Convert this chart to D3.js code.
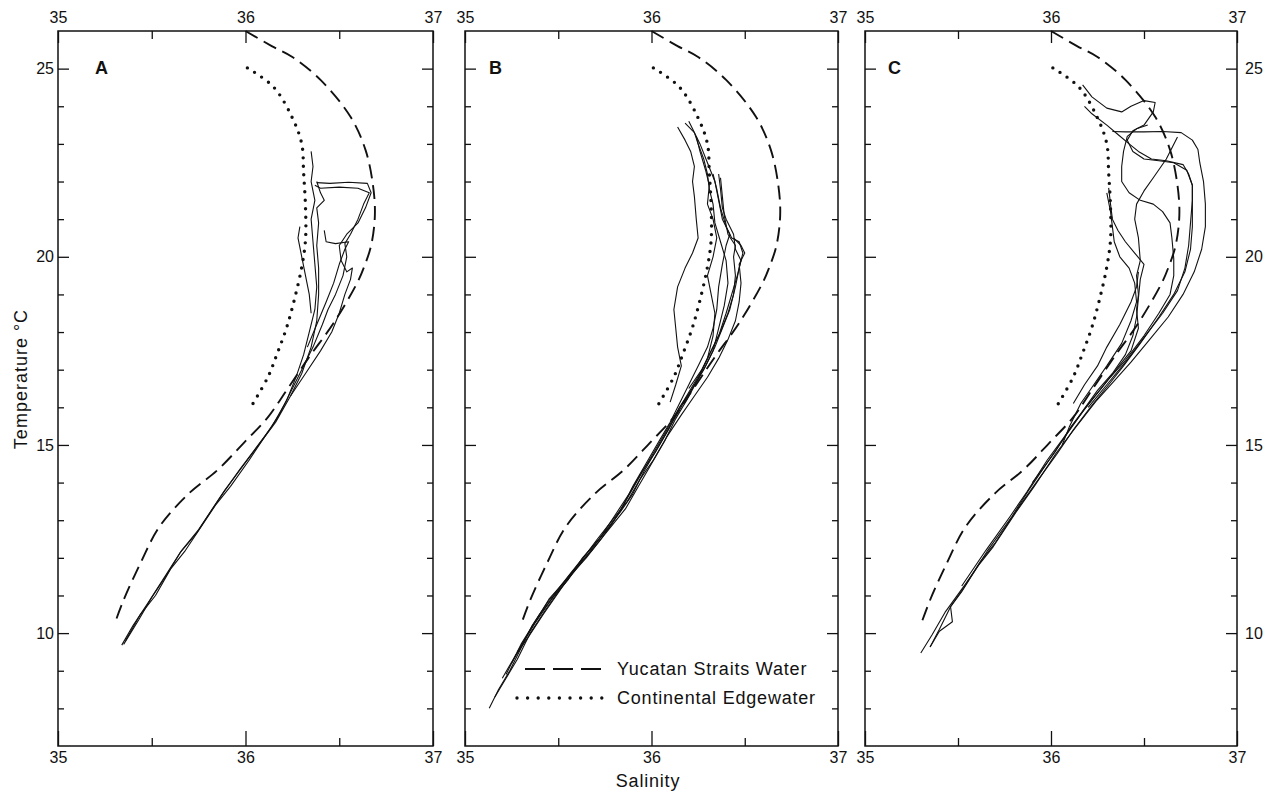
<!DOCTYPE html>
<html>
<head>
<meta charset="utf-8">
<script src="https://cdn.jsdelivr.net/npm/d3@7"></script>
<style>
body { margin: 0; background: #fff; }
svg { font-family: "Liberation Sans", Arial, sans-serif; }
</style>
</head>
<body>
<div id="chart"></div>
<script>
// axis values
var salinityLabels = [35, 36, 37];
var salinityMinor = [35.5, 36.5];
var tempLabels = [10, 15, 20, 25];
var tempMinor = [8, 9, 11, 12, 13, 14, 16, 17, 18, 19, 21, 22, 23, 24];
var panelNames = ["A", "B", "C"];

// reference water masses [salinity, temperature]
var yucatanStraitsWater = [
    [36.0, 26.0], [36.14, 25.6], [36.25, 25.31], [36.40, 24.7], [36.56, 23.72],
    [36.64, 22.84], [36.68, 21.9], [36.69, 21.1], [36.67, 20.3], [36.63, 19.7],
    [36.595, 19.3], [36.47, 18.24], [36.34, 17.34], [36.22, 16.46], [36.12, 15.74],
    [35.99, 15.05], [35.85, 14.33], [35.70, 13.72], [35.54, 12.82], [35.44, 11.86],
    [35.35, 10.88], [35.30, 10.22]
];
var continentalEdgewater = [
    [36.01, 25.02], [36.15, 24.51], [36.25, 23.69], [36.30, 23.0], [36.31, 22.23],
    [36.32, 21.32], [36.32, 20.45], [36.30, 19.73], [36.26, 18.85], [36.22, 18.13],
    [36.17, 17.44], [36.12, 16.81], [36.035, 16.06]
];

// station T-S profiles, panel A
var profilesA = [
    [[35.34,9.68],[35.40,10.2],[35.49,10.88],[35.57,11.5],[35.65,12.13],[35.74,12.66],[35.81,13.2],[35.88,13.72],[35.97,14.35],[36.06,14.95],[36.14,15.48],[36.22,16.19],[36.27,16.81],[36.31,17.4],[36.34,18.0],[36.37,18.6],[36.38,19.2],[36.37,19.8],[36.36,20.4],[36.35,21.0],[36.37,21.5],[36.35,22.0],[36.36,22.4],[36.35,22.8]],
    [[35.36,9.8],[35.44,10.5],[35.52,11.0],[35.60,11.7],[35.68,12.2],[35.76,12.8],[35.84,13.4],[35.92,13.9],[36.02,14.6],[36.10,15.2],[36.18,15.8],[36.24,16.4],[36.30,17.0],[36.36,17.6],[36.41,18.2],[36.44,18.6],[36.48,19.0],[36.52,19.5],[36.54,20.0],[36.53,20.35],[36.56,20.6],[36.60,21.0],[36.63,21.4],[36.66,21.7],[36.60,21.82],[36.50,21.85],[36.40,21.82],[36.37,21.9]],
    [[35.35,9.7],[35.43,10.35],[35.50,10.95],[35.58,11.55],[35.66,12.2],[35.75,12.75],[35.89,13.8],[35.98,14.4],[36.07,15.0],[36.16,15.6],[36.24,16.3],[36.32,16.9],[36.40,17.5],[36.46,18.0],[36.50,18.5],[36.53,19.0],[36.56,19.4],[36.57,19.7],[36.54,19.6],[36.51,19.9],[36.50,20.3],[36.54,20.6],[36.60,20.9],[36.64,21.3],[36.67,21.7],[36.65,21.95],[36.55,21.98],[36.45,21.95],[36.38,21.97]],
    [[36.35,18.5],[36.34,19.0],[36.32,19.5],[36.30,20.0],[36.28,20.5],[36.29,20.8]],
    [[36.24,16.3],[36.30,16.9],[36.35,17.6],[36.38,18.3],[36.39,19.0],[36.39,19.7],[36.38,20.3],[36.39,20.9],[36.38,21.3],[36.42,21.5],[36.40,21.7],[36.38,22.0]],
    [[36.33,17.6],[36.38,18.2],[36.43,18.8],[36.47,19.3],[36.50,19.8],[36.53,20.2],[36.55,20.4],[36.48,20.35],[36.43,20.4],[36.42,20.7]]
];

// panel B
var profilesB = [
    [[35.13,8.0],[35.18,8.5],[35.24,9.0],[35.30,9.6],[35.36,10.2],[35.44,10.8],[35.52,11.3],[35.60,11.8],[35.70,12.4],[35.78,12.85],[35.84,13.3],[35.90,13.9],[35.97,14.5],[36.04,15.1],[36.10,15.6],[36.16,16.2],[36.21,16.7],[36.26,17.2],[36.30,17.6],[36.33,18.1],[36.35,18.6],[36.36,19.2],[36.38,19.8],[36.40,20.3],[36.42,20.6],[36.38,21.0],[36.36,21.5],[36.34,22.0],[36.30,22.5],[36.26,23.0],[36.22,23.4],[36.20,23.6]],
    [[35.16,8.3],[35.22,8.8],[35.28,9.3],[35.35,10.0],[35.43,10.6],[35.50,11.1],[35.58,11.6],[35.66,12.1],[35.75,12.7],[35.83,13.2],[35.90,13.7],[35.96,14.3],[36.03,14.9],[36.10,15.5],[36.17,16.1],[36.23,16.6],[36.29,17.1],[36.34,17.6],[36.38,18.1],[36.42,18.6],[36.45,19.2],[36.47,19.7],[36.49,20.1],[36.47,20.4],[36.43,20.5],[36.40,20.8],[36.37,21.3],[36.35,21.8],[36.33,22.2]],
    [[35.20,8.8],[35.27,9.4],[35.34,9.9],[35.42,10.5],[35.49,11.0],[35.56,11.5],[35.65,12.0],[35.73,12.5],[35.80,13.0],[35.86,13.5],[35.93,14.1],[36.00,14.7],[36.07,15.3],[36.14,15.9],[36.20,16.4],[36.26,16.9],[36.31,17.4],[36.36,17.9],[36.40,18.5],[36.43,19.0],[36.46,19.5],[36.48,19.9],[36.45,20.2],[36.44,20.6],[36.40,21.0],[36.38,21.3],[36.37,21.8],[36.36,22.2]],
    [[35.22,8.9],[35.30,9.7],[35.40,10.5],[35.48,11.0],[35.55,11.4],[35.63,12.0],[35.72,12.5],[35.80,13.1],[35.88,13.7],[35.95,14.3],[36.02,14.8],[36.09,15.4],[36.15,16.0],[36.22,16.5],[36.28,17.0],[36.33,17.5],[36.36,18.1],[36.39,18.7],[36.41,19.3],[36.40,19.9],[36.37,20.4],[36.34,20.9],[36.33,21.4],[36.31,21.8],[36.30,22.2],[36.28,22.6],[36.25,23.0],[36.23,23.3],[36.18,23.55]],
    [[36.10,16.14],[36.13,16.6],[36.16,17.1],[36.14,17.6],[36.13,18.1],[36.12,18.6],[36.14,19.2],[36.18,19.7],[36.22,20.1],[36.25,20.5],[36.24,21.0],[36.23,21.6],[36.22,22.0],[36.23,22.4],[36.21,22.8],[36.18,23.1],[36.14,23.45]],
    [[35.25,9.2],[35.34,10.0],[35.45,10.9],[35.54,11.4],[35.62,11.9],[35.71,12.5],[35.79,13.0],[35.87,13.5],[35.94,14.1],[36.01,14.6],[36.08,15.2],[36.16,15.8],[36.23,16.3],[36.30,16.8],[36.36,17.3],[36.41,17.8],[36.45,18.3],[36.47,18.8],[36.48,19.3],[36.47,19.8],[36.50,20.1],[36.48,20.3],[36.44,20.5]],
    [[35.28,9.5],[35.38,10.3],[35.47,10.95],[35.57,11.6],[35.68,12.2],[35.77,12.75],[35.86,13.3],[35.93,13.9],[36.00,14.5],[36.07,15.1],[36.13,15.7],[36.19,16.2],[36.25,16.75],[36.30,17.3],[36.33,17.9],[36.34,18.5],[36.32,19.0],[36.30,19.5],[36.33,20.0],[36.35,20.5],[36.33,21.0],[36.30,21.4],[36.31,21.9],[36.29,22.3],[36.26,22.8],[36.24,23.2]],
    [[36.20,16.5],[36.27,17.0],[36.32,17.5],[36.37,18.0],[36.41,18.5],[36.44,19.0],[36.45,19.5],[36.44,20.0],[36.45,20.3],[36.41,20.6],[36.39,21.1],[36.38,21.6],[36.37,22.1]]
];

// panel C
var profilesC = [
    [[35.30,9.47],[35.36,9.95],[35.43,10.55],[35.54,11.3],[35.61,11.8],[35.69,12.3],[35.81,13.2],[35.91,13.9],[36.03,14.8],[36.13,15.45],[36.24,16.15],[36.34,16.7],[36.43,17.2],[36.53,17.8],[36.63,18.4],[36.71,19.0],[36.77,19.6],[36.81,20.2],[36.83,20.8],[36.83,21.4],[36.82,22.0],[36.80,22.5],[36.79,22.85],[36.76,23.1],[36.70,23.3],[36.60,23.33],[36.50,23.32],[36.40,23.32],[36.33,23.33]],
    [[35.35,9.63],[35.40,10.1],[35.46,10.7],[35.53,11.2],[35.62,11.9],[35.70,12.4],[35.82,13.3],[35.92,14.0],[36.03,14.75],[36.12,15.4],[36.22,16.05],[36.31,16.6],[36.39,17.1],[36.48,17.7],[36.58,18.4],[36.66,19.0],[36.72,19.6],[36.75,20.2],[36.76,20.8],[36.76,21.3],[36.76,21.9],[36.73,22.3],[36.66,22.5],[36.58,22.55],[36.50,22.6],[36.44,22.8],[36.41,23.1],[36.44,23.35],[36.50,23.5],[36.55,23.85],[36.56,24.1],[36.50,24.15],[36.43,24.0],[36.38,23.85],[36.30,23.95],[36.22,24.25],[36.17,24.57]],
    [[35.35,9.63],[35.40,10.05],[35.47,10.3],[35.46,10.7],[35.52,11.1],[35.66,12.2],[35.79,13.1],[35.88,13.8],[35.99,14.6],[36.08,15.25],[36.18,15.95],[36.27,16.5],[36.35,17.0],[36.43,17.5],[36.47,18.1],[36.46,18.6],[36.47,19.0],[36.46,19.5],[36.48,19.9],[36.47,20.5],[36.45,21.0],[36.46,21.4],[36.50,21.75],[36.55,22.1],[36.62,22.6],[36.68,23.18]],
    [[35.52,11.25],[35.65,12.2],[35.78,13.1],[35.87,13.75],[35.98,14.6],[36.07,15.2],[36.17,15.9],[36.25,16.45],[36.33,16.9],[36.40,17.4],[36.44,17.9],[36.46,18.4],[36.47,18.9],[36.48,19.4],[36.50,19.8],[36.45,20.1],[36.40,20.4],[36.36,20.7],[36.33,21.0],[36.32,21.4],[36.31,21.83]],
    [[36.06,15.0],[36.10,15.5],[36.16,16.1],[36.23,16.6],[36.30,17.1],[36.38,17.7],[36.43,18.3],[36.46,18.8],[36.45,19.3],[36.42,19.7],[36.37,20.0],[36.34,20.4],[36.33,20.8],[36.32,21.2],[36.30,21.7]],
    [[35.90,14.0],[36.02,14.8],[36.11,15.5],[36.22,16.2],[36.31,16.75],[36.40,17.25],[36.50,17.9],[36.58,18.5],[36.64,19.0],[36.66,19.5],[36.66,19.95],[36.65,20.5],[36.64,20.9],[36.60,21.2],[36.55,21.4],[36.48,21.5],[36.42,21.7],[36.38,22.0],[36.38,22.4],[36.39,22.8],[36.41,23.2],[36.46,23.4],[36.52,23.5]],
    [[36.20,16.0],[36.30,16.6],[36.40,17.2],[36.50,17.85],[36.60,18.5],[36.68,19.1],[36.72,19.7],[36.74,20.3],[36.75,20.9],[36.76,21.5],[36.76,21.9],[36.74,22.2],[36.71,22.45],[36.62,22.55],[36.54,22.6],[36.47,22.8],[36.42,23.0],[36.36,23.25],[36.30,23.5],[36.22,23.8],[36.18,24.0]],
    [[36.12,16.1],[36.18,16.6],[36.25,17.1],[36.30,17.6],[36.37,18.2],[36.43,18.8],[36.46,19.2],[36.47,19.6]]
];

var allProfiles = [profilesA, profilesB, profilesC];

// layout
var fullWidth = 1271;
var fullHeight = 793;
var panelLeft = [58, 465, 865];
var panelRight = [433, 838, 1237];
var letterX = [95, 489, 888];
var plotTop = 31;
var plotBottom = 746;
var ink = "#111";

var svg = d3.select("#chart").append("svg").attr("width", fullWidth).attr("height", fullHeight);

var y = d3.scaleLinear().domain([7, 26]).range([plotBottom, plotTop]);

function styleAxis(g) {
    g.select(".domain").remove();
    g.attr("font-size", 16);
    g.selectAll("line").attr("stroke", ink).attr("stroke-width", 1.3);
    g.selectAll("text").attr("fill", ink);
}

panelNames.forEach(function(name, i) {
    var x = d3.scaleLinear().domain([35, 37]).range([panelLeft[i], panelRight[i]]);
    var panel = svg.append("g");

    // frame
    panel.append("rect").attr("x", panelLeft[i]).attr("y", plotTop)
        .attr("width", panelRight[i] - panelLeft[i]).attr("height", plotBottom - plotTop)
        .attr("fill", "none").attr("stroke", ink).attr("stroke-width", 1.5);

    // top axis
    panel.append("g").attr("transform", "translate(0," + plotTop + ")")
        .call(d3.axisTop(x).tickValues(salinityLabels).tickSize(-12).tickPadding(8).tickFormat(d3.format("d")))
        .call(styleAxis);
    panel.append("g").attr("transform", "translate(0," + plotTop + ")")
        .call(d3.axisTop(x).tickValues(salinityMinor).tickSize(-8).tickFormat(""))
        .call(styleAxis);

    // bottom axis
    panel.append("g").attr("transform", "translate(0," + plotBottom + ")")
        .call(d3.axisBottom(x).tickValues(salinityLabels).tickSize(-15).tickPadding(6).tickFormat(d3.format("d")))
        .call(styleAxis);
    panel.append("g").attr("transform", "translate(0," + plotBottom + ")")
        .call(d3.axisBottom(x).tickValues(salinityMinor).tickSize(-8).tickFormat(""))
        .call(styleAxis);

    // left and right temperature ticks
    panel.append("g").attr("transform", "translate(" + panelLeft[i] + ",0)")
        .call(d3.axisLeft(y).tickValues(tempLabels).tickSize(-11).tickPadding(4)
            .tickFormat(i === 0 ? d3.format("d") : ""))
        .call(styleAxis);
    panel.append("g").attr("transform", "translate(" + panelLeft[i] + ",0)")
        .call(d3.axisLeft(y).tickValues(tempMinor).tickSize(-6).tickFormat(""))
        .call(styleAxis);
    panel.append("g").attr("transform", "translate(" + panelRight[i] + ",0)")
        .call(d3.axisRight(y).tickValues(tempLabels).tickSize(-11).tickPadding(8)
            .tickFormat(i === 2 ? d3.format("d") : ""))
        .call(styleAxis);
    panel.append("g").attr("transform", "translate(" + panelRight[i] + ",0)")
        .call(d3.axisRight(y).tickValues(tempMinor).tickSize(-6).tickFormat(""))
        .call(styleAxis);

    // panel letter
    panel.append("text").attr("x", letterX[i]).attr("y", 74)
        .style("font-size", "18px").style("font-weight", "bold").attr("fill", ink)
        .text(name);

    var line = d3.line().x(function(d) { return x(d[0]); }).y(function(d) { return y(d[1]); });
    var smooth = d3.line().curve(d3.curveCatmullRom)
        .x(function(d) { return x(d[0]); }).y(function(d) { return y(d[1]); });

    // station profiles
    panel.selectAll(".profile").data(allProfiles[i]).enter().append("path")
        .attr("class", "profile")
        .attr("d", line)
        .attr("fill", "none").attr("stroke", ink).attr("stroke-width", 1.1)
        .attr("stroke-linejoin", "round");

    // Yucatan Straits Water
    panel.append("path").datum(yucatanStraitsWater)
        .attr("d", smooth)
        .attr("fill", "none").attr("stroke", ink).attr("stroke-width", 1.9)
        .attr("stroke-dasharray", "14,7");

    // Continental Edgewater
    panel.append("path").datum(continentalEdgewater)
        .attr("d", smooth)
        .attr("fill", "none").attr("stroke", ink).attr("stroke-width", 3.4)
        .attr("stroke-linecap", "round").attr("stroke-dasharray", "0,8.5");
});

// legend (panel B)
var legend = svg.append("g");
legend.append("line").attr("x1", 525).attr("x2", 602).attr("y1", 669).attr("y2", 669)
    .attr("stroke", ink).attr("stroke-width", 2.2).attr("stroke-dasharray", "20,8");
legend.append("line").attr("x1", 517).attr("x2", 603).attr("y1", 698).attr("y2", 698)
    .attr("stroke", ink).attr("stroke-width", 3.4).attr("stroke-linecap", "round")
    .attr("stroke-dasharray", "0,10.6");
legend.append("text").attr("x", 617).attr("y", 675).attr("fill", ink)
    .style("font-size", "18px").style("letter-spacing", "0.8px").text("Yucatan Straits Water");
legend.append("text").attr("x", 617).attr("y", 704).attr("fill", ink)
    .style("font-size", "18px").style("letter-spacing", "0.8px").text("Continental Edgewater");

// axis titles
svg.append("text").attr("x", 648).attr("y", 787).attr("text-anchor", "middle").attr("fill", ink)
    .style("font-size", "18px").style("letter-spacing", "0.8px").text("Salinity");
svg.append("text").attr("transform", "translate(27,379) rotate(-90)").attr("text-anchor", "middle")
    .attr("fill", ink).style("font-size", "18px").style("letter-spacing", "1px").text("Temperature °C");
</script>
</body>
</html>
